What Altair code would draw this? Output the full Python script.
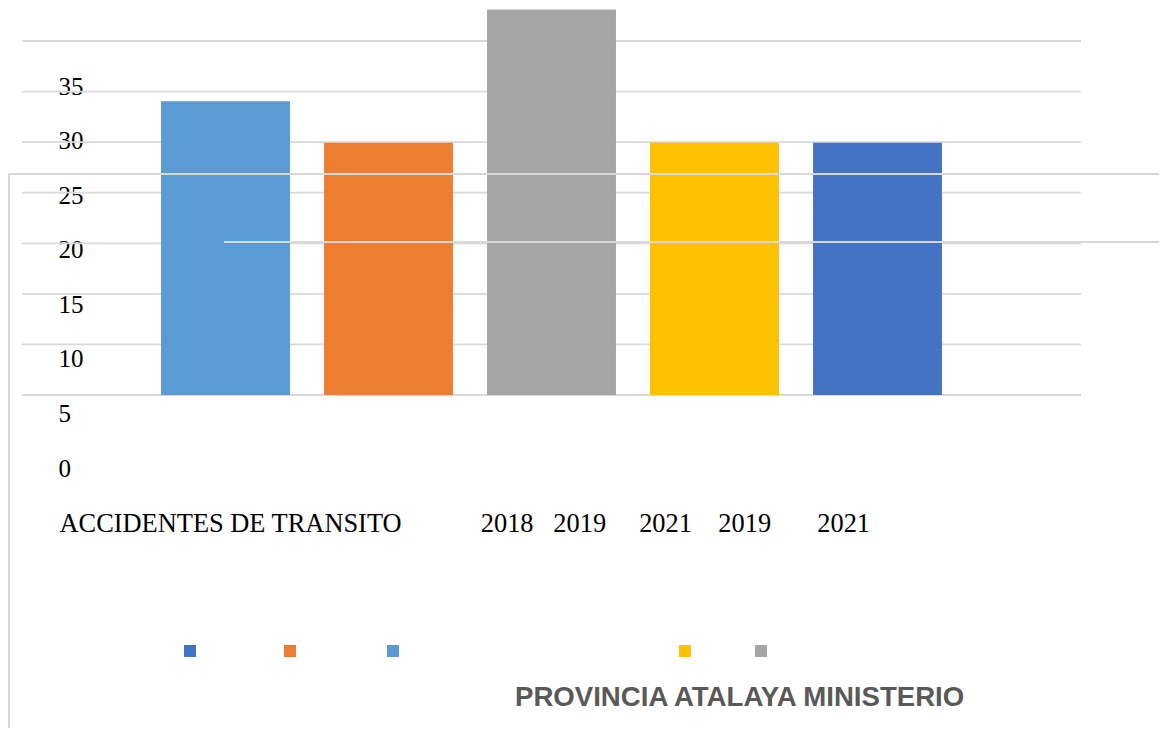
import altair as alt
import pandas as pd

# ---- data ----
series = ["Provincia 2018", "Provincia 2019", "Provincia 2021", "Ministerio 2019", "Ministerio 2021"]
values = [33.6, 29.8, 42.0, 29.8, 29.8]
colors = ["#5B9BD5", "#ED7D31", "#A5A5A5", "#FFC000", "#4472C4"]
y_ticks = [0, 5, 10, 15, 20, 25, 30, 35]
grid_values = [0, 5, 10, 15, 20, 25, 30, 35]
legend_order = ["Ministerio 2021", "Provincia 2019", "Provincia 2018", "Ministerio 2019", "Provincia 2021"]
legend_gaps = [29, 30, 93, 21, 0]
x_words = ["ACCIDENTES DE TRANSITO", "2018", "2019", "2021", "2019", "2021"]
x_spaces = [12, 3, 5, 4, 7]
title_text = "PROVINCIA ATALAYA MINISTERIO"

NB = "\u00a0"
x_title = x_words[0]
for w, n in zip(x_words[1:], x_spaces):
    x_title += NB * n + w

df = pd.DataFrame({"serie": series, "valor": values})
grid_df = pd.DataFrame({"g": grid_values})

# invisible spacer labels (monospace filler, drawn with zero opacity) to spread the legend keys
label_expr = ""
for name, n in zip(legend_order, legend_gaps):
    label_expr += f"datum.value == '{name}' ? '{'0' * n}' : "
label_expr += "''"

W, H = 1059, 387

grid = alt.Chart(grid_df).mark_rule(color="#D9D9D9", strokeWidth=1.8).encode(
    y=alt.Y("g:Q", scale=alt.Scale(domain=[0, 35], range=[387, 33], nice=False, zero=False), axis=None)
)

bars = alt.Chart(df).mark_bar(clip=True).encode(
    x=alt.X("serie:N", sort=series,
            scale=alt.Scale(paddingInner=0.209, paddingOuter=0.853),
            axis=alt.Axis(labels=False, ticks=False, domain=False, grid=False,
                          title=x_title, titleFont="Liberation Serif", titleFontSize=26.4,
                          titleFontWeight="normal", titleColor="#000000",
                          titleAlign="left", titleBaseline="alphabetic",
                          titleX=37, titleY=136, titleAnchor="start")),
    y=alt.Y("valor:Q", scale=alt.Scale(domain=[0, 35], range=[460, 78], nice=False, zero=False),
            axis=alt.Axis(values=y_ticks, orient="left", grid=False, domain=False, ticks=False,
                          tickSize=0, labelPadding=-36, labelAlign="left", labelBaseline="middle",
                          labelFont="Liberation Serif", labelFontSize=25, labelColor="#000000",
                          labelOverlap=False, labelFlush=False, labelBound=False, title=None)),
    color=alt.Color("serie:N",
                    scale=alt.Scale(domain=series, range=colors),
                    legend=alt.Legend(orient="none", legendX=162, legendY=637, direction="horizontal",
                                      values=legend_order, title=None,
                                      symbolType="square", symbolSize=144, symbolStrokeWidth=0,
                                      symbolOpacity=1, labelExpr=label_expr,
                                      labelFont="DejaVu Sans Mono", labelFontSize=5,
                                      labelOpacity=0, labelColor="#FFFFFF",
                                      labelOffset=0, columnPadding=0, padding=0,
                                      gridAlign="each", labelLimit=1000)),
)

one = alt.Data(values=[{}])
line_top = alt.Chart(one).mark_rule(color="#D9D9D9", strokeWidth=2).encode(
    x=alt.value(-14), x2=alt.value(1137), y=alt.value(166))
line_left = alt.Chart(one).mark_rule(color="#D9D9D9", strokeWidth=2).encode(
    x=alt.value(-13), y=alt.value(166), y2=alt.value(720))
line_mid = alt.Chart(one).mark_rule(color="#D9D9D9", strokeWidth=2).encode(
    x=alt.value(202), x2=alt.value(1137), y=alt.value(234))

title = alt.Chart(one).mark_text(
    align="left", baseline="alphabetic", font="Liberation Sans", fontSize=27.6,
    fontWeight="bold", color="#595959"
).encode(x=alt.value(493), y=alt.value(698), text=alt.value(title_text))

chart = alt.layer(grid, bars, line_top, line_left, line_mid, title).resolve_scale(
    y="independent"
).properties(
    width=W, height=H,
    padding={"left": 14, "top": 0, "right": 78, "bottom": 333},
    autosize=alt.AutoSizeParams(type="none"),
    background="#FFFFFF",
).configure_view(stroke=None)

chart.save("out.html", embed_options={"renderer": "svg", "actions": False})
